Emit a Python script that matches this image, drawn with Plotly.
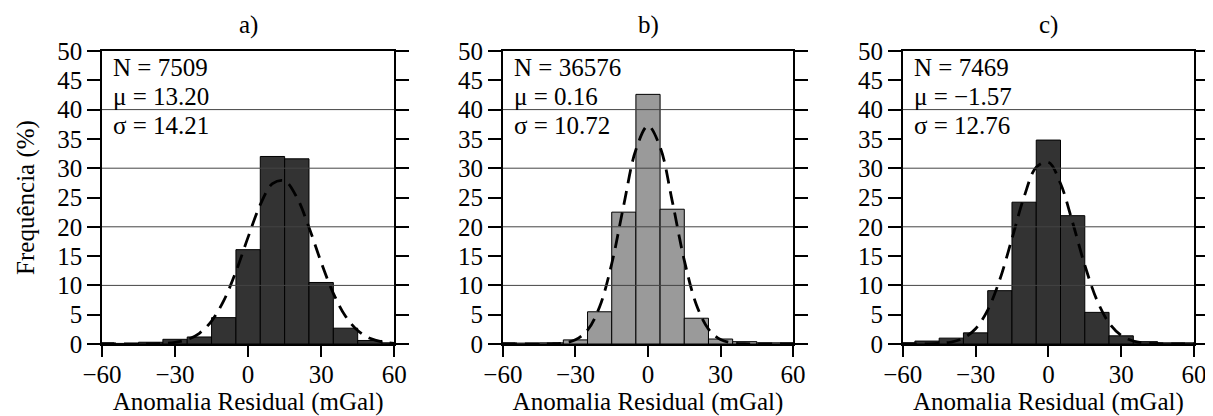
import plotly.graph_objects as go

# ---- data ----
bin_centers = [-60, -50, -40, -30, -20, -10, 0, 10, 20, 30, 40, 50, 60]
freq_a = [0.2, 0.1, 0.3, 0.8, 1.2, 4.5, 16.1, 32.0, 31.6, 10.5, 2.7, 0.6, 0.2]
freq_b = [0.2, 0.15, 0.2, 0.7, 5.5, 22.5, 42.6, 23.0, 4.4, 0.85, 0.4, 0.2, 0.2]
freq_c = [0.2, 0.5, 1.0, 1.9, 9.1, 24.2, 34.8, 21.9, 5.4, 1.4, 0.4, 0.2, 0.2]

curve_x = [-60, -55, -50, -45, -40, -35, -30, -25, -20, -15, -10, -5, 0,
           5, 10, 15, 20, 25, 30, 35, 40, 45, 50, 55, 60]
curve_a = [0.0, 0.0, 0.0, 0.01, 0.03, 0.09, 0.28, 0.76, 1.83, 3.92, 7.40, 12.35, 18.24,
           23.77, 27.37, 27.85, 25.03, 19.89, 13.95, 8.65, 4.74, 2.30, 0.98, 0.37, 0.12]
curve_b = [0.0, 0.0, 0.0, 0.01, 0.03, 0.17, 0.71, 2.37, 6.35, 13.69, 23.75, 33.15, 37.22,
           33.61, 24.42, 14.28, 6.71, 2.54, 0.77, 0.19, 0.04, 0.01, 0.0, 0.0, 0.0]
curve_c = [0.0, 0.0, 0.02, 0.10, 0.34, 1.01, 2.61, 5.79, 11.01, 17.96, 25.13, 30.15, 31.02,
           27.38, 20.72, 13.45, 7.49, 3.58, 1.46, 0.51, 0.16, 0.04, 0.01, 0.0, 0.0]

panel_titles = ["a)", "b)", "c)"]
stats_a = ["N = 7509", "μ = 13.20", "σ = 14.21"]
stats_b = ["N = 36576", "μ = 0.16", "σ = 10.72"]
stats_c = ["N = 7469", "μ = −1.57", "σ = 12.76"]
grid_values = [10, 20, 30, 40]
x_ticks = [-60, -30, 0, 30, 60]

bar_colors = ["#333333", "#9a9a9a", "#333333"]

FONT = "Liberation Serif"
FS = 25

fig = go.Figure()

freqs = [freq_a, freq_b, freq_c]
curves = [curve_a, curve_b, curve_c]
stats = [stats_a, stats_b, stats_c]
domains = [[0.0, 0.2676], [0.3671, 0.6329], [0.7333, 1.0]]

for i in range(3):
    sx = "" if i == 0 else str(i + 1)
    fig.add_trace(go.Bar(
        x=bin_centers, y=freqs[i], width=10,
        marker=dict(color=bar_colors[i], line=dict(color="black", width=1)),
        xaxis="x" + sx, yaxis="y" + sx, showlegend=False,
    ))
    fig.add_trace(go.Scatter(
        x=curve_x, y=curves[i], mode="lines",
        line=dict(color="black", width=2.8, dash="14px,8px", shape="spline"),
        xaxis="x" + sx, yaxis="y" + sx, showlegend=False,
    ))

layout = dict(
    width=1213, height=416,
    margin=dict(l=94, r=24, t=43, b=80),
    paper_bgcolor="white", plot_bgcolor="white",
    font=dict(family=FONT, size=FS, color="black"),
    showlegend=False,
)

annotations = []
shapes = []
for i in range(3):
    sx = "" if i == 0 else str(i + 1)
    layout["xaxis" + sx] = dict(
        domain=domains[i], anchor="y" + sx, range=[-60, 60],
        tickmode="array", tickvals=x_ticks,
        ticks="outside", ticklen=11, tickwidth=1.5, tickcolor="black",
        showline=True, linecolor="black", linewidth=1.5, mirror=True,
        showgrid=False, zeroline=False, ticklabelstandoff=-4,
        tickfont=dict(family=FONT, size=FS, color="black"),
        title=dict(text="Anomalia Residual (mGal)", standoff=6,
                   font=dict(family=FONT, size=FS, color="black")),
    )
    ydict = dict(
        domain=[0, 1], anchor="x" + sx, range=[0, 50], dtick=5, tick0=0,
        ticks="outside", ticklen=13, tickwidth=1.5, tickcolor="black",
        showline=True, linecolor="black", linewidth=1.5, mirror="ticks",
        showgrid=False, zeroline=False,
        tickfont=dict(family=FONT, size=FS, color="black"),
    )
    if i == 0:
        ydict["title"] = dict(text="Frequência (%)", standoff=16,
                              font=dict(family=FONT, size=FS, color="black"))
    layout["yaxis" + sx] = ydict

    for g in grid_values:
        shapes.append(dict(
            type="line", xref="x" + sx + " domain", yref="y" + sx,
            x0=0, x1=1, y0=g, y1=g, layer="above",
            line=dict(color="#444444", width=1),
        ))

    annotations.append(dict(
        text=panel_titles[i], xref="x" + sx + " domain", yref="paper",
        x=0.5, y=1.0, yshift=26, xanchor="center", yanchor="middle",
        showarrow=False, font=dict(family=FONT, size=FS, color="black"),
    ))
    for j, yy in enumerate([0.945, 0.846, 0.747]):
        annotations.append(dict(
            text=stats[i][j], xref="x" + sx + " domain", yref="y" + sx + " domain",
            x=0.03, y=yy, xanchor="left", yanchor="middle",
            showarrow=False, font=dict(family=FONT, size=FS, color="black"),
        ))

layout["annotations"] = annotations
layout["shapes"] = shapes
fig.update_layout(**layout)

fig.write_html("out.html")
